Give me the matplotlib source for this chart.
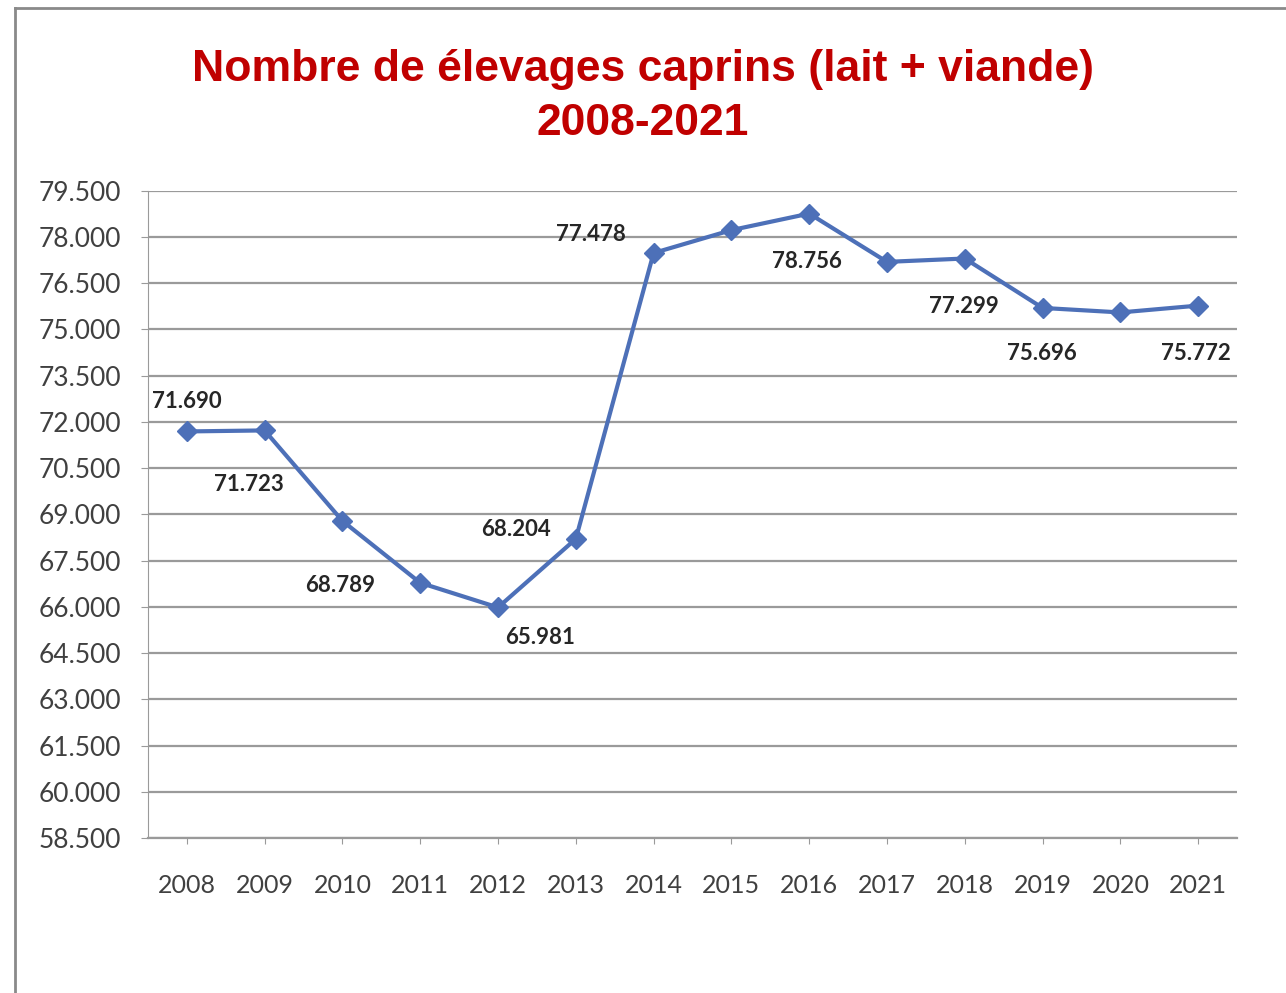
import matplotlib.pyplot as plt
from matplotlib.lines import Line2D
from matplotlib.ticker import FuncFormatter

years = ["2008", "2009", "2010", "2011", "2012", "2013", "2014",
         "2015", "2016", "2017", "2018", "2019", "2020", "2021"]
elevages = [71690, 71723, 68789, 66780, 65981, 68204, 77478,
            78220, 78756, 77190, 77299, 75696, 75550, 75772]
# which points carry a data label
labelled = [True, True, True, False, True, True, True,
            False, True, False, True, True, False, True]
# label offsets in pixels (dx, dy)
offsets = [(0, 30), (-16, -54), (-2, -65), (0, 0), (42, -30), (-60, 9),
           (-63, 18), (0, 0), (-2, -48), (0, 0), (-1, -48), (-1, -46),
           (0, 0), (-2, -48)]

yticks = list(range(58500, 79501, 1500))


def fmt_thousands(v, pos=None):
    return f"{int(round(v)):,}".replace(",", ".")


fig = plt.figure(figsize=(12.86, 9.93), dpi=100)
ax = fig.add_axes([0.115, 0.156, 0.847, 0.652])

x = list(range(len(years)))
color = "#4d70b8"
ax.plot(x, elevages, color=color, linewidth=3, marker="D", markersize=10,
        markerfacecolor=color, markeredgecolor=color, zorder=3)

for i, v in enumerate(elevages):
    if labelled[i]:
        ax.annotate(fmt_thousands(v), (i, v), xytext=offsets[i],
                    textcoords="offset pixels", ha="center", va="center",
                    fontsize=16, fontweight="bold", family="Lato",
                    color="#262626")

ax.set_xlim(-0.5, len(years) - 0.5)
ax.set_ylim(58500, 79500)
ax.set_yticks(yticks)
ax.yaxis.set_major_formatter(FuncFormatter(fmt_thousands))
ax.set_xticks(x)
ax.set_xticklabels(years)
ax.grid(axis="y", color="#9a9a9a", linewidth=1.6)
ax.set_axisbelow(True)

for s in ["top", "right"]:
    ax.spines[s].set_visible(False)
ax.spines["left"].set_color("#9a9a9a")
ax.spines["bottom"].set_color("#9a9a9a")
ax.spines["bottom"].set_linewidth(1.6)
ax.tick_params(axis="y", length=5, color="#9a9a9a", labelsize=19,
               labelcolor="#404040", pad=14)
ax.tick_params(axis="x", length=4, color="#9a9a9a", labelsize=18,
               labelcolor="#404040", pad=22)
for lab in ax.get_xticklabels() + ax.get_yticklabels():
    lab.set_family("Lato")

fig.text(0.5, 0.930, "Nombre de élevages caprins (lait + viande)",
         ha="center", va="center", fontsize=32, fontweight="bold",
         color="#c00000", family="Liberation Sans")
fig.text(0.5, 0.876, "2008-2021", ha="center", va="center", fontsize=32,
         fontweight="bold", color="#c00000", family="Liberation Sans")

# outer frame
fig.add_artist(Line2D([0.012, 0.012], [0.0, 0.992], transform=fig.transFigure,
                      color="#8a8a8a", linewidth=2))
fig.add_artist(Line2D([0.012, 1.0], [0.992, 0.992], transform=fig.transFigure,
                      color="#8a8a8a", linewidth=2))

fig.savefig("out.png", dpi=100)
